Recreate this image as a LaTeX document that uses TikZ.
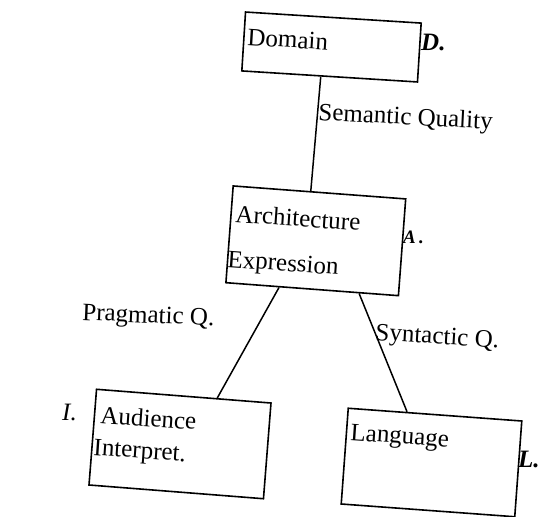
\documentclass[tikz,border=0pt]{standalone}
\usepackage{fontspec}
\setmainfont{Liberation Serif}
\usetikzlibrary{calc}

\tikzset{
  box/.style={draw, line width=1.6pt, rectangle, inner sep=0pt, fill=none},
  txt/.style={inner sep=0pt, anchor=base west, font=\fontsize{25}{25}\selectfont},
  tag/.style={inner sep=0pt, anchor=base west, font=\fontsize{25}{25}\selectfont\itshape\bfseries},
  link/.style={line width=1.5pt}
}

\begin{document}
\begin{tikzpicture}[x=1pt, y=-1pt]
  \useasboundingbox (0,0) rectangle (539,517);
  \fill[white] (0,0) rectangle (539,517);

  % boxes
  \node[box, minimum width=176pt, minimum height=59pt, rotate=-3.6] (dom) at (331.5,47) {};
  \node[box, minimum width=173pt, minimum height=97pt, rotate=-4.3] (arch) at (315.8,240.8) {};
  \node[box, minimum width=175pt, minimum height=96pt, rotate=-4.5] (aud) at (180,444) {};
  \node[box, minimum width=174pt, minimum height=96pt, rotate=-4.2] (lang) at (431.5,462.5) {};

  % box captions
  \node[txt, rotate=-3.5] (domT) at (247,45) {Domain};
  \node[txt, rotate=-4] (archT1) at (235,222) {Architecture};
  \node[txt, rotate=-4] (archT2) at (227,267) {Expression};
  \node[txt, rotate=-4] (audT1) at (100,423) {Audience};
  \node[txt, rotate=-4] (audT2) at (93,455) {Interpret.};
  \node[txt, rotate=-4] (langT) at (350,440) {Language};

  % corner tags
  \node[tag] (tagD) at (421,50) {D.};
  \node[tag, font=\fontsize{19}{19}\selectfont\itshape\bfseries] (tagA) at (403,243) {A\,.};
  \node[tag] (tagL) at (518,467) {L.};
  \node[tag, font=\fontsize{25}{25}\selectfont\itshape] (tagI) at (62,420) {I.};

  % connectors
  \draw[link] ($(dom.south west)!0.45!(dom.south east)$) -- ($(arch.north west)!0.45!(arch.north east)$);
  \draw[link] ($(arch.south west)!0.31!(arch.south east)$) -- ($(aud.north west)!0.69!(aud.north east)$);
  \draw[link] ($(arch.south west)!0.77!(arch.south east)$) -- ($(lang.north west)!0.34!(lang.north east)$);

  % connector labels
  \node[txt, rotate=-3] (semQ) at (318,120) {Semantic Quality};
  \node[txt, rotate=-2.5] (praQ) at (82,320) {Pragmatic Q.};
  \node[txt, rotate=-3.5] (synQ) at (375,340) {Syntactic Q.};
\end{tikzpicture}
\end{document}
